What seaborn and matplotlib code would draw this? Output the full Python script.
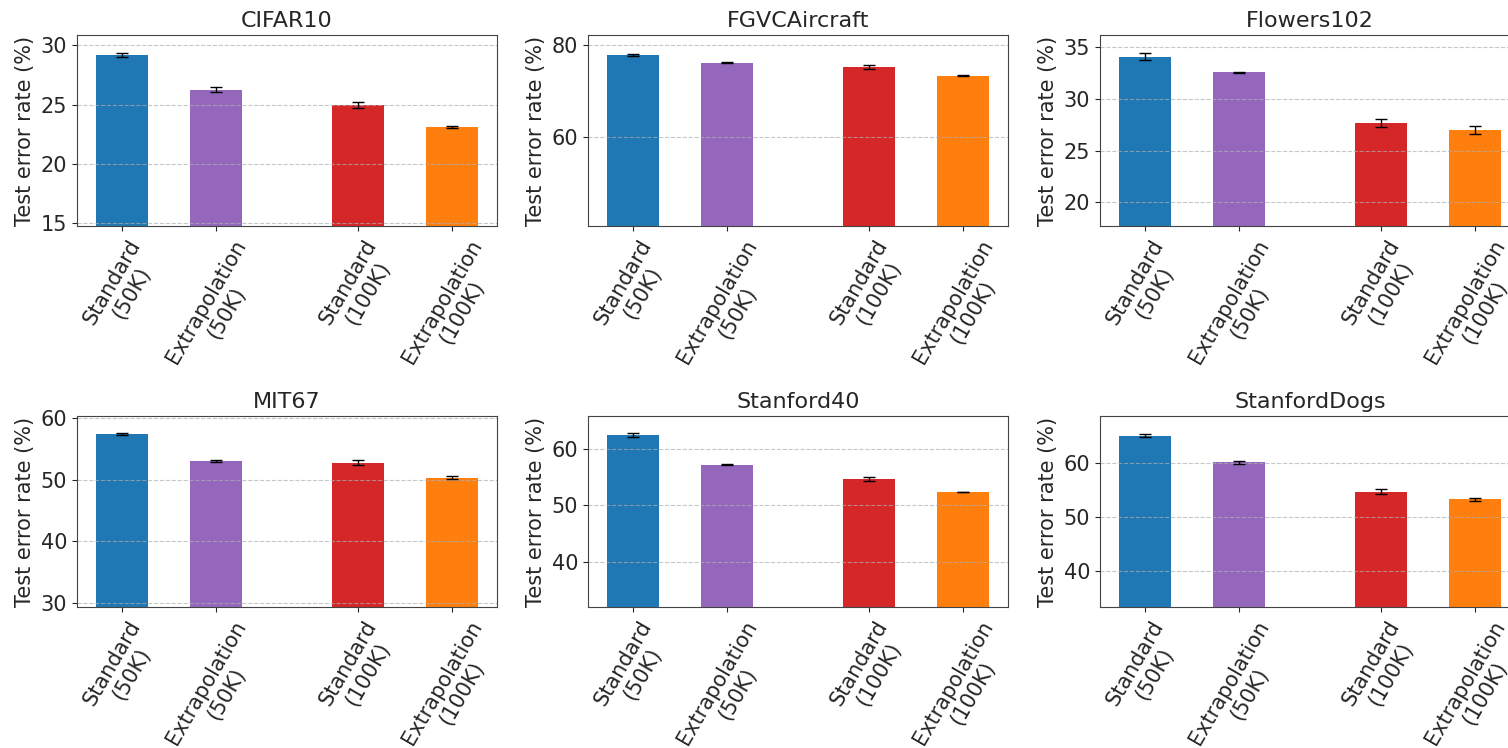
import seaborn as sns
import matplotlib.pyplot as plt
import numpy as np

# bar order: Standard 50K, Extrapolation 50K, Standard 100K, Extrapolation 100K
methods = ['Standard\n(50K)', 'Extrapolation\n(50K)', 'Standard\n(100K)', 'Extrapolation\n(100K)']
positions = [0, 1, 2.5, 3.5]
colors = ['tab:blue', 'tab:purple', 'tab:red', 'tab:orange']

datasets = ['CIFAR10', 'FGVCAircraft', 'Flowers102', 'MIT67', 'Stanford40', 'StanfordDogs']

cifar10 = [29.2, 26.25, 25.0, 23.1]
cifar10_err = [0.15, 0.2, 0.25, 0.1]
aircraft = [77.8, 76.1, 75.2, 73.3]
aircraft_err = [0.25, 0.15, 0.5, 0.15]
flowers = [34.1, 32.6, 27.7, 27.0]
flowers_err = [0.35, 0.05, 0.4, 0.35]
mit67 = [57.3, 53.0, 52.7, 50.3]
mit67_err = [0.15, 0.2, 0.4, 0.25]
stanford40 = [62.5, 57.25, 54.7, 52.35]
stanford40_err = [0.4, 0.1, 0.4, 0.05]
dogs = [65.0, 60.05, 54.6, 53.2]
dogs_err = [0.3, 0.25, 0.45, 0.25]

values = [cifar10, aircraft, flowers, mit67, stanford40, dogs]
errors = [cifar10_err, aircraft_err, flowers_err, mit67_err, stanford40_err, dogs_err]

ylims = [(14.75, 30.87), (40.8, 82.1), (17.7, 36.2), (29.4, 60.26), (31.9, 65.9), (33.3, 68.6)]
yticks = [[15, 20, 25, 30], [60, 80], [20, 25, 30, 35], [30, 40, 50, 60], [40, 50, 60], [40, 50, 60]]

sns.set_style('ticks')
plt.rcParams['font.family'] = ['DejaVu Sans']

fig = plt.figure(figsize=(15.08, 7.48), dpi=100)

# axes boxes (left, bottom, width, height) in figure fraction; right column runs past the edge
lefts = [0.0511, 0.3899, 0.7294]
bottoms = [0.6979, 0.1885]
w, h = 0.2785, 0.2553

for i, name in enumerate(datasets):
    r, c = divmod(i, 3)
    ax = fig.add_axes([lefts[c], bottoms[r], w, h])
    sns.barplot(x=positions, y=values[i], hue=methods, palette=colors,
                native_scale=True, dodge=False, width=0.55, saturation=1,
                errorbar=None, legend=False, linewidth=0, ax=ax)
    ax.errorbar(positions, values[i], yerr=errors[i], fmt='none',
                ecolor='black', capsize=4, elinewidth=1, capthick=1)
    ax.set_xlim(-0.475, 3.975)
    ax.set_ylim(*ylims[i])
    ax.set_yticks(yticks[i])
    ax.set_xticks(positions)
    ax.set_xticklabels(methods, rotation=60, fontsize=15)
    ax.tick_params(axis='y', labelsize=15)
    ax.set_xlabel('')
    ax.set_ylabel('Test error rate (%)', fontsize=15)
    ax.set_title(name, fontsize=16)
    ax.grid(axis='y', linestyle='--', color='#b0b0b0', alpha=0.7)
    ax.set_axisbelow('line')
    for s in ax.spines.values():
        s.set_color('#444444')

plt.savefig('out.png', dpi=100)
